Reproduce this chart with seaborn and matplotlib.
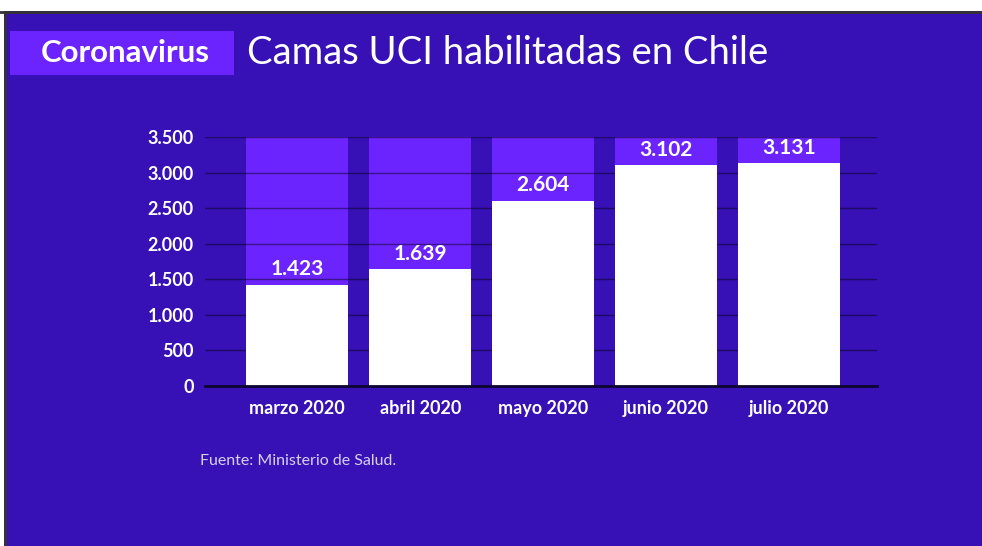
import numpy as np
import pandas as pd
import matplotlib.pyplot as plt
import seaborn as sns
from matplotlib.patches import Rectangle
from matplotlib.lines import Line2D

# Datos
meses = ['marzo 2020', 'abril 2020', 'mayo 2020', 'junio 2020', 'julio 2020']
camas = [1423, 1639, 2604, 3102, 3131]
tope = [3500, 3500, 3500, 3500, 3500]
yticks = [0, 500, 1000, 1500, 2000, 2500, 3000, 3500]

fondo = '#3711b5'
lila = '#6c24fe'

df = pd.DataFrame({'mes': meses, 'camas': camas, 'tope': tope})

def fmt(v):
    return f'{v:,}'.replace(',', '.')

sns.set_theme(style='white')
plt.rcParams['font.family'] = ['Lato', 'DejaVu Sans']

fig = plt.figure(figsize=(9.82, 5.46), dpi=100)
fig.patch.set_facecolor(fondo)

# franja blanca superior y marco
fig.add_artist(Rectangle((0, 1 - 11 / 546), 1, 11 / 546, transform=fig.transFigure,
                         facecolor='white', edgecolor='none'))
fig.add_artist(Rectangle((0, 0), 4 / 982, 1, transform=fig.transFigure,
                         facecolor='white', edgecolor='none'))
fig.add_artist(Line2D([0, 1], [1 - 12 / 546] * 2, transform=fig.transFigure,
                      color='#333333', lw=2))
fig.add_artist(Line2D([5 / 982] * 2, [0, 1 - 12 / 546], transform=fig.transFigure,
                      color='#333333', lw=2))

ax = fig.add_axes([205 / 982, 1 - 386 / 546, 672 / 982, 249 / 546])
ax.set_facecolor(fondo)

sns.barplot(data=df, x='mes', y='tope', color=lila, width=0.83, saturation=1, ax=ax,
            linewidth=0, edgecolor='none')
for p in ax.patches:
    p.set_zorder(1)
sns.barplot(data=df, x='mes', y='camas', color='white', width=0.83, saturation=1, ax=ax,
            linewidth=0, edgecolor='none')
for p in ax.patches[len(meses):]:
    p.set_zorder(3)

# lineas de guia entre el fondo lila y las barras blancas
for t in yticks[1:]:
    ax.axhline(t, color='black', alpha=0.45, lw=1, zorder=2)

for i, v in enumerate(camas):
    ax.annotate(fmt(v), (i, v), xytext=(0, 4), textcoords='offset points',
                ha='center', va='bottom', color='white', fontsize=15, fontweight='bold',
                zorder=4)

ax.set_xlim(-0.75, 4.715)
ax.set_ylim(0, 3500)
ax.set_yticks(yticks)
ax.set_yticklabels([fmt(t) for t in yticks])
ax.grid(False)
for s in ['top', 'right', 'left']:
    ax.spines[s].set_visible(False)
ax.spines['bottom'].set_color('#0d0530')
ax.spines['bottom'].set_linewidth(2)
ax.spines['bottom'].set_zorder(5)
ax.tick_params(axis='both', colors='white', labelsize=13, length=0)
ax.tick_params(axis='x', pad=10)
ax.tick_params(axis='y', pad=8)
for lab in ax.get_xticklabels() + ax.get_yticklabels():
    lab.set_fontweight('bold')
ax.set_xlabel('')
ax.set_ylabel('')

# titulo
fig.add_artist(Rectangle((10 / 982, 1 - 75 / 546), 224 / 982, 44 / 546, transform=fig.transFigure,
                         facecolor=lila, edgecolor='none'))
fig.text(125 / 982, 1 - 53 / 546, 'Coronavirus', color='white', fontsize=22.5, fontweight='bold',
         ha='center', va='center')
fig.text(247 / 982, 1 - 53 / 546, 'Camas UCI habilitadas en Chile', color='white', fontsize=27.5,
         ha='left', va='center')

fig.text(200 / 982, 1 - 461 / 546, 'Fuente: Ministerio de Salud.', color='#d8d0f0', fontsize=11.5,
         fontweight='normal', ha='left', va='center')

plt.savefig('out.png', dpi=100, facecolor=fig.get_facecolor())
